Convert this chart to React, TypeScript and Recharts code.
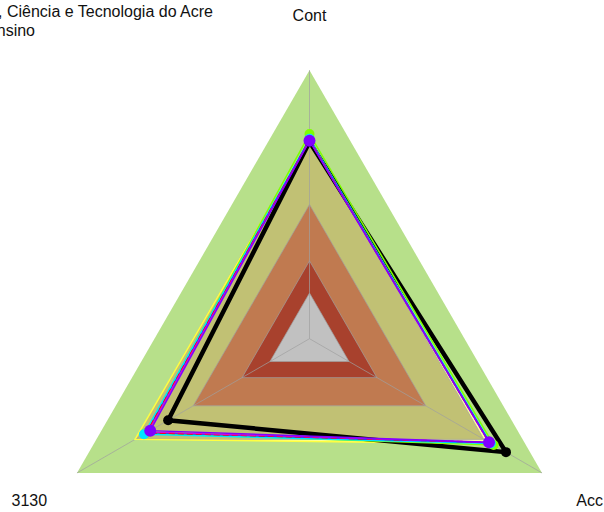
import React from 'react';
import { RadarChart, Radar, PolarGrid, PolarAngleAxis, PolarRadiusAxis } from 'recharts';

const categories = ['Cont', 'Acc', '3130'];

// background bands (same value on each axis)
const bandLevels = [1.0, 0.75, 0.5, 0.29, 0.17];
const bandColors = ['#b7e08a', '#c1c174', '#c07a50', '#a8412d', '#c1c1c1'];

// series values in the order Cont, Acc, 3130
const seriesNames = ['yellow', 'green', 'cyan', 'blue', 'red', 'magenta', 'purple', 'black'];
const yellowVals = [0.745, 0.782, 0.75];
const greenVals = [0.762, 0.792, 0.705];
const cyanVals = [0.745, 0.78, 0.712];
const blueVals = [0.742, 0.776, 0.70];
const redVals = [0.74, 0.772, 0.70];
const magentaVals = [0.738, 0.772, 0.695];
const purpleVals = [0.737, 0.772, 0.685];
const blackVals = [0.733, 0.845, 0.608];

const titleLine1 = 'Instituto Federal de Educação, Ciência e Tecnologia do Acre';
const titleLine2 = 'Ensino';

const seriesArrays = [yellowVals, greenVals, cyanVals, blueVals, redVals, magentaVals, purpleVals, blackVals];

const data = categories.map((c, i) => {
  const row: Record<string, any> = { cat: c };
  bandLevels.forEach((b, j) => { row['band' + j] = b; });
  seriesNames.forEach((n, j) => { row[n] = seriesArrays[j][i]; });
  return row;
});

const CX = 309.5;
const CY = 338.7;
const R = 268.5;
const W = 604;
const H = 512;
const FONT = '"Liberation Sans", Arial, sans-serif';

const AngleTick = (props: any) => {
  const { payload, cx, cy, radius } = props;
  const ang = (payload.coordinate * Math.PI) / 180;
  const rr = (radius ?? R) * 1.205;
  const x = (cx ?? CX) + rr * Math.cos(ang);
  const y = (cy ?? CY) - rr * Math.sin(ang);
  return (
    <text x={x} y={y} dy="0.36em" textAnchor="middle" fontSize={16} fontFamily={FONT} fill="#111">
      {payload.value}
    </text>
  );
};

const chartProps = {
  width: W,
  height: H,
  data,
  cx: CX,
  cy: CY,
  outerRadius: R,
  startAngle: 90,
  endAngle: -270,
  margin: { top: 0, right: 0, bottom: 0, left: 0 },
};

const layer: React.CSSProperties = { position: 'absolute', left: 0, top: 0 };

export default function App() {
  return (
    <div style={{ position: 'absolute', left: 0, top: 0, width: W, height: H, background: '#fff' }}>
      {/* background bands */}
      <div style={layer}>
        <RadarChart {...chartProps}>
          <PolarAngleAxis dataKey="cat" tick={false} axisLine={false} tickLine={false} />
          <PolarRadiusAxis type="number" domain={[0, 1]} tick={false} axisLine={false} />
          <Radar dataKey="band0" fill={bandColors[0]} fillOpacity={1} stroke="none" isAnimationActive={false} dot={false} />
          <Radar dataKey="yellow" fill="#ffffa0" fillOpacity={1} stroke="none" isAnimationActive={false} dot={false} />
          {bandLevels.slice(1).map((b, k) => (
            <Radar
              key={'band' + (k + 1)}
              dataKey={'band' + (k + 1)}
              fill={bandColors[k + 1]}
              fillOpacity={1}
              stroke="none"
              isAnimationActive={false}
              dot={false}
            />
          ))}
        </RadarChart>
      </div>
      {/* grid */}
      <div style={layer}>
        <RadarChart {...chartProps}>
          <PolarGrid
            gridType="polygon"
            polarRadius={[R * 0.17, R * 0.29, R * 0.5, R * 0.75]}
            stroke="#a0a0a0"
            strokeOpacity={0.7}
            strokeWidth={1}
          />
          <PolarAngleAxis dataKey="cat" tick={false} axisLine={false} tickLine={false} />
          <PolarRadiusAxis type="number" domain={[0, 1]} tick={false} axisLine={false} />
        </RadarChart>
      </div>
      {/* series */}
      <div style={layer}>
        <RadarChart {...chartProps}>
          <PolarAngleAxis dataKey="cat" tick={<AngleTick />} axisLine={false} tickLine={false} />
          <PolarRadiusAxis type="number" domain={[0, 1]} tick={false} axisLine={false} />
          <Radar dataKey="yellow" stroke="#ffff40" strokeWidth={1.5} fill="none" isAnimationActive={false} dot={false} />
          <Radar dataKey="black" stroke="#000" strokeWidth={4.5} fill="none" isAnimationActive={false}
            dot={{ r: 5, fill: '#000', stroke: 'none' }} />
          <Radar dataKey="green" stroke="#80ff00" strokeWidth={1.5} fill="none" isAnimationActive={false}
            dot={{ r: 5, fill: '#80ff00', stroke: 'none' }} />
          <Radar dataKey="cyan" stroke="#00e5ff" strokeWidth={1.5} fill="none" isAnimationActive={false}
            dot={{ r: 5, fill: '#00e5ff', stroke: 'none' }} />
          <Radar dataKey="blue" stroke="#0040ff" strokeWidth={1.2} fill="none" isAnimationActive={false} dot={false} />
          <Radar dataKey="red" stroke="#ff0000" strokeWidth={1.5} strokeDasharray="6 3" fill="none" isAnimationActive={false} dot={false} />
          <Radar dataKey="magenta" stroke="#e000e0" strokeWidth={1.2} fill="none" isAnimationActive={false} dot={false} />
          <Radar dataKey="purple" stroke="#8000ff" strokeWidth={1.5} fill="none" isAnimationActive={false}
            dot={{ r: 6, fill: '#8000ff', stroke: 'none' }} />
        </RadarChart>
      </div>
      <svg width={W} height={H} style={{ position: 'absolute', left: 0, top: 0, pointerEvents: 'none' }}>
        <text x={213} y={17} textAnchor="end" fontSize={16} fontFamily={FONT} fill="#111">{titleLine1}</text>
        <text x={35} y={36} textAnchor="end" fontSize={16} fontFamily={FONT} fill="#111">{titleLine2}</text>
      </svg>
    </div>
  );
}
